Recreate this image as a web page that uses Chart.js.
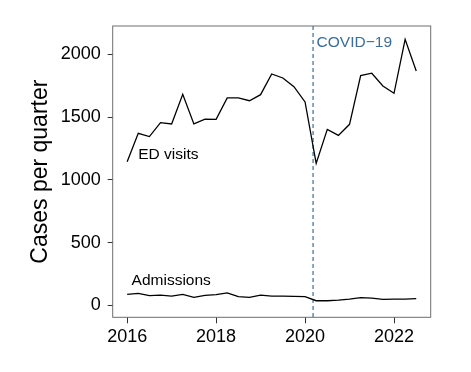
<!DOCTYPE html>
<html>
<head>
<meta charset="utf-8">
<script src="https://cdn.jsdelivr.net/npm/chart.js@4"></script>
<style>
  html, body { margin: 0; padding: 0; background: #fff; }
</style>
</head>
<body>
<canvas id="casesChart" width="471" height="372"></canvas>
<script>
// quarterly data, 2016 Q1 .. 2022 Q3
const quarters = [2016, 2016.25, 2016.5, 2016.75, 2017, 2017.25, 2017.5, 2017.75,
                  2018, 2018.25, 2018.5, 2018.75, 2019, 2019.25, 2019.5, 2019.75,
                  2020, 2020.25, 2020.5, 2020.75, 2021, 2021.25, 2021.5, 2021.75,
                  2022, 2022.25, 2022.5];
const edVisits = [1144, 1370, 1344, 1455, 1445, 1681, 1445, 1484,
                  1482, 1652, 1652, 1630, 1678, 1843, 1811, 1742,
                  1620, 1131, 1402, 1354, 1442, 1830, 1849, 1747,
                  1689, 2119, 1867];
const admissions = [88, 96, 77, 82, 74, 88, 64, 80,
                    85, 100, 69, 64, 82, 74, 74, 72,
                    69, 37, 37, 42, 50, 61, 58, 48,
                    50, 50, 53];
const xTicks = [2016, 2018, 2020, 2022];
const yTicks = [0, 500, 1000, 1500, 2000];
const covidDate = 2020.18;

// text labels placed at data coordinates
const edLabel = { text: "ED visits", x: 2016.25, y: 1200 };
const admLabel = { text: "Admissions", x: 2016.1, y: 200 };
const covidLabel = { text: "COVID\u221219", x: 2020.26, y: 2092 };

const FONT = "'Liberation Sans', Arial, sans-serif";
const BLUE = "#3a6d97";

const toPoints = vals => vals.map((v, i) => ({ x: quarters[i], y: v }));

const panelExtras = {
    id: "panelExtras",
    beforeDatasetsDraw(chart) {
        const { ctx, chartArea: a, scales: { x } } = chart;
        const cx = x.getPixelForValue(covidDate);
        ctx.save();
        ctx.strokeStyle = BLUE;
        ctx.lineWidth = 1.2;
        ctx.setLineDash([4, 3]);
        ctx.beginPath();
        ctx.moveTo(cx, a.top);
        ctx.lineTo(cx, a.bottom);
        ctx.stroke();
        ctx.restore();
    },
    afterDatasetsDraw(chart) {
        const { ctx, chartArea: a, scales: { x, y } } = chart;
        ctx.save();
        ctx.font = "15.5px " + FONT;
        ctx.textAlign = "left";
        ctx.textBaseline = "middle";
        ctx.fillStyle = "#000";
        [edLabel, admLabel].forEach(l => {
            ctx.fillText(l.text, x.getPixelForValue(l.x), y.getPixelForValue(l.y));
        });
        ctx.fillStyle = BLUE;
        ctx.fillText(covidLabel.text, x.getPixelForValue(covidLabel.x), y.getPixelForValue(covidLabel.y));

        // panel border
        ctx.strokeStyle = "#6e6e6e";
        ctx.lineWidth = 1;
        ctx.strokeRect(a.left, a.top, a.width, a.height);
        ctx.restore();
    }
};

const ctx = document.getElementById("casesChart").getContext("2d");
new Chart(ctx, {
    type: "line",
    data: {
        datasets: [
            { label: "ED visits", data: toPoints(edVisits) },
            { label: "Admissions", data: toPoints(admissions) }
        ]
    },
    options: {
        responsive: false,
        animation: false,
        devicePixelRatio: 1,
        layout: { padding: { top: 26, right: 40.3, bottom: 0, left: 0 } },
        elements: {
            line: { borderColor: "#000", borderWidth: 1.3, tension: 0, fill: false },
            point: { radius: 0, hoverRadius: 0 }
        },
        plugins: { legend: { display: false }, tooltip: { enabled: false } },
        scales: {
            x: {
                type: "linear",
                min: 2015.675,
                max: 2022.825,
                afterBuildTicks: s => { s.ticks = xTicks.map(v => ({ value: v })); },
                afterFit: s => { s.height = 54.7; },
                border: { display: false },
                grid: { drawOnChartArea: false, drawTicks: true, tickLength: 6, color: "#333", lineWidth: 1 },
                ticks: { color: "#000", font: { family: FONT, size: 18 }, padding: 3, maxRotation: 0, autoSkip: false,
                         callback: v => String(v) }
            },
            y: {
                min: -95,
                max: 2225,
                afterBuildTicks: s => { s.ticks = yTicks.map(v => ({ value: v })); },
                afterFit: s => { s.width = 112.7; },
                border: { display: false },
                grid: { drawOnChartArea: false, drawTicks: true, tickLength: 5, color: "#333", lineWidth: 1 },
                ticks: { color: "#000", font: { family: FONT, size: 18 }, padding: 7, autoSkip: false,
                         callback: v => String(v) },
                title: { display: true, text: "Cases per quarter", color: "#000", font: { family: FONT, size: 23 }, padding: { top: 27, bottom: 0 } }
            }
        }
    },
    plugins: [panelExtras]
});
</script>
</body>
</html>
